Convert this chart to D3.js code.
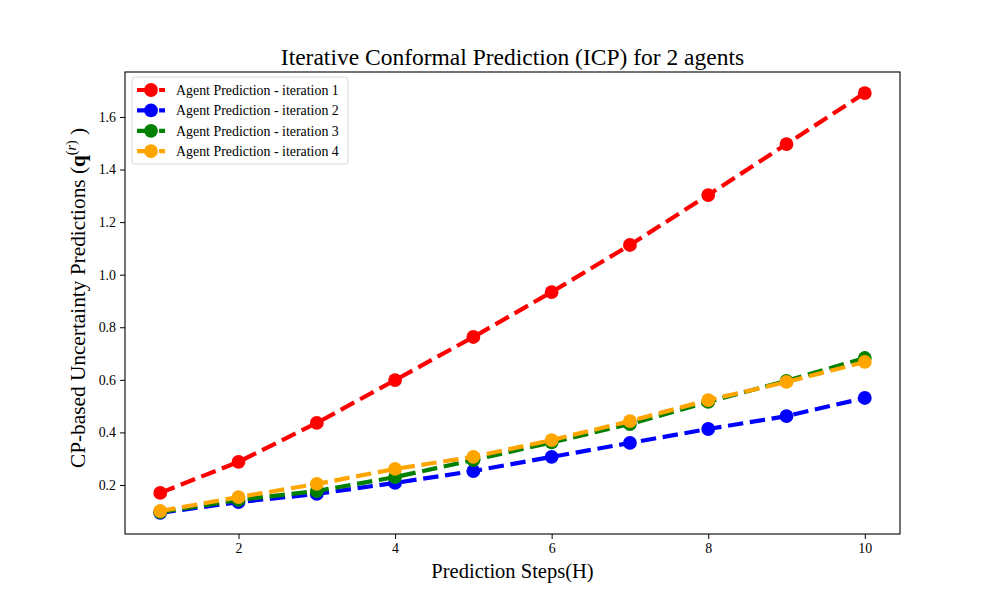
<!DOCTYPE html>
<html>
<head>
<meta charset="utf-8">
<script src="https://cdn.jsdelivr.net/npm/d3@7"></script>
<style>
  body { margin: 0; background: #fff; }
  svg text { font-family: "Liberation Serif", "DejaVu Serif", serif; fill: #000; }
</style>
</head>
<body>
<div id="chart"></div>
<script>
// --- Data ---
const steps = [1, 2, 3, 4, 5, 6, 7, 8, 9, 10];
const iter1 = [0.170, 0.288, 0.436, 0.599, 0.763, 0.934, 1.113, 1.303, 1.497, 1.691];
const iter2 = [0.094, 0.135, 0.166, 0.208, 0.253, 0.307, 0.360, 0.413, 0.462, 0.531];
const iter3 = [0.097, 0.143, 0.177, 0.230, 0.295, 0.362, 0.432, 0.516, 0.596, 0.683];
const iter4 = [0.101, 0.154, 0.204, 0.261, 0.307, 0.371, 0.443, 0.523, 0.592, 0.668];
const seriesNames = ["Agent Prediction - iteration 1", "Agent Prediction - iteration 2",
                     "Agent Prediction - iteration 3", "Agent Prediction - iteration 4"];
const seriesColors = ["#ff0000", "#0000ff", "#008000", "#ffa500"];
const xTicks = [2, 4, 6, 8, 10];
const yTicks = [0.2, 0.4, 0.6, 0.8, 1.0, 1.2, 1.4, 1.6];

const width = 1000, height = 600;
const margin = { left: 125, right: 100, top: 72, bottom: 66 };
const serif = '"Liberation Serif", "DejaVu Serif", serif';

const svg = d3.select("#chart").append("svg")
    .attr("width", width)
    .attr("height", height);

const x = d3.scaleLinear().domain([0.55, 10.45]).range([margin.left, width - margin.right]);
const y = d3.scaleLinear().domain([0.0136, 1.771]).range([height - margin.bottom, margin.top]);

// Axes
svg.append("g")
    .attr("transform", `translate(0,${height - margin.bottom})`)
    .call(d3.axisBottom(x).tickValues(xTicks).tickSize(5).tickPadding(4).tickFormat(d3.format("d")))
    .call(g => g.select(".domain").remove())
    .call(g => g.selectAll("text").style("font-size", "13.9px").style("font-family", serif));

svg.append("g")
    .attr("transform", `translate(${margin.left},0)`)
    .call(d3.axisLeft(y).tickValues(yTicks).tickSize(5).tickPadding(4).tickFormat(d3.format(".1f")))
    .call(g => g.select(".domain").remove())
    .call(g => g.selectAll("text").style("font-size", "13.9px").style("font-family", serif));

// Plot frame
svg.append("rect")
    .attr("x", margin.left).attr("y", margin.top)
    .attr("width", width - margin.left - margin.right)
    .attr("height", height - margin.top - margin.bottom)
    .attr("fill", "none").attr("stroke", "#000").attr("stroke-width", 1.1);

// Lines
const allSeries = [iter1, iter2, iter3, iter4];
const line = d3.line().x((d, i) => x(steps[i])).y(d => y(d));

const plot = svg.append("g");
allSeries.forEach((vals, k) => {
    const g = plot.append("g");
    g.append("path")
        .datum(vals)
        .attr("d", line)
        .attr("fill", "none")
        .attr("stroke", seriesColors[k])
        .attr("stroke-width", 4.2)
        .attr("stroke-dasharray", "15.4,6.7");
    g.selectAll("circle")
        .data(vals)
        .enter().append("circle")
        .attr("cx", (d, i) => x(steps[i]))
        .attr("cy", d => y(d))
        .attr("r", 6.9)
        .attr("fill", seriesColors[k]);
});

// Title and labels
svg.append("text")
    .attr("x", (margin.left + width - margin.right) / 2)
    .attr("y", 65)
    .attr("text-anchor", "middle")
    .style("font-size", "23.5px")
    .text("Iterative Conformal Prediction (ICP) for 2 agents");

svg.append("text")
    .attr("x", (margin.left + width - margin.right) / 2)
    .attr("y", 578)
    .attr("text-anchor", "middle")
    .style("font-size", "20.5px")
    .text("Prediction Steps(H)");

const yl = svg.append("text")
    .attr("transform", `translate(85,298) rotate(-90)`)
    .attr("text-anchor", "middle")
    .style("font-size", "21.3px");
yl.append("tspan").text("CP-based Uncertainty Predictions (");
yl.append("tspan").style("font-weight", "bold").text("q");
yl.append("tspan").attr("dy", -9).style("font-size", "14px").text("(");
yl.append("tspan").style("font-size", "14px").style("font-style", "italic").text("r");
yl.append("tspan").style("font-size", "14px").text(")");
yl.append("tspan").attr("dy", 9).text(" )");

// Legend
const legend = svg.append("g").attr("transform", "translate(132,77)");
legend.append("rect")
    .attr("width", 216).attr("height", 87)
    .attr("rx", 3)
    .attr("fill", "#fff").attr("fill-opacity", 0.8)
    .attr("stroke", "#d6d6d6").attr("stroke-width", 1);

seriesNames.forEach((name, k) => {
    const row = legend.append("g").attr("transform", `translate(0,${13 + k * 20.4})`);
    row.append("line")
        .attr("x1", 5).attr("x2", 33)
        .attr("stroke", seriesColors[k]).attr("stroke-width", 4.2)
        .attr("stroke-dasharray", "15.4,6.7");
    row.append("circle").attr("cx", 19).attr("r", 6.9).attr("fill", seriesColors[k]);
    row.append("text")
        .attr("x", 44).attr("dy", "0.35em")
        .style("font-size", "13.9px")
        .text(name);
});
</script>
</body>
</html>
